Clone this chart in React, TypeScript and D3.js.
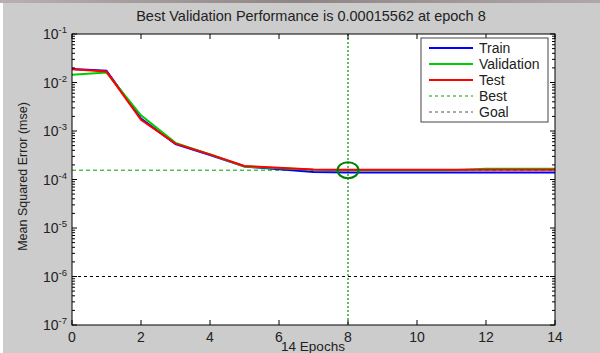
import React from 'react';
import * as d3 from 'd3';

// epochs and mse per series
const epochs = [0, 1, 2, 3, 4, 5, 6, 7, 8, 9, 10, 11, 12, 13, 14];
const trainMse = [0.0190, 0.0174, 0.00180, 5.4e-4, 3.2e-4, 1.85e-4, 1.62e-4, 1.42e-4, 1.40e-4, 1.39e-4, 1.39e-4, 1.39e-4, 1.39e-4, 1.39e-4, 1.39e-4];
const validationMse = [0.0145, 0.0160, 0.00210, 5.7e-4, 3.3e-4, 1.85e-4, 1.70e-4, 1.58e-4, 1.5562e-4, 1.556e-4, 1.556e-4, 1.556e-4, 1.66e-4, 1.66e-4, 1.66e-4];
const testMse = [0.0188, 0.0168, 0.00170, 5.5e-4, 3.3e-4, 1.90e-4, 1.75e-4, 1.60e-4, 1.58e-4, 1.58e-4, 1.58e-4, 1.58e-4, 1.58e-4, 1.58e-4, 1.58e-4];
const bestEpoch = 8;
const bestPerf = 0.00015562;
const goal = 1e-6;
const xTicks = [0, 2, 4, 6, 8, 10, 12, 14];
const yExponents = [-1, -2, -3, -4, -5, -6, -7];
const legendItems = [
  { label: 'Train', color: '#0000ff', dash: null },
  { label: 'Validation', color: '#00cc00', dash: null },
  { label: 'Test', color: '#ff0000', dash: null },
  { label: 'Best', color: '#00a000', dash: '3 3' },
  { label: 'Goal', color: '#555555', dash: '3 3' },
];

const W = 600;
const H = 353;
const m = { left: 72, right: 555, top: 34, bottom: 325 };
const font = '"Liberation Sans", Arial, sans-serif';

export default function App() {
  const x = d3.scaleLinear().domain([0, 14]).range([m.left, m.right]);
  const y = d3.scaleLog().domain([1e-7, 1e-1]).range([m.bottom, m.top]);

  const line = (vals: number[]) =>
    d3.line<number>().x((_, i) => x(epochs[i])).y(d => y(d))(vals) || '';

  const minorTicks: number[] = [];
  for (let e = -7; e < -1; e++) {
    for (let k = 2; k <= 9; k++) minorTicks.push(k * Math.pow(10, e));
  }

  return (
    <div style={{ position: 'fixed', left: 0, top: 0 }}>
      <svg width={W} height={H} style={{ display: 'block', fontFamily: font }}>
        <defs>
          <linearGradient id="topStrip" x1="0" x2="1" y1="0" y2="0">
            <stop offset="0%" stopColor="#b8b0b0" />
            <stop offset="50%" stopColor="#8f8585" />
            <stop offset="100%" stopColor="#b0a8a8" />
          </linearGradient>
          <clipPath id="plotClip">
            <rect x={m.left} y={m.top} width={m.right - m.left} height={m.bottom - m.top} />
          </clipPath>
        </defs>
        <rect x={0} y={0} width={W} height={H} fill="#ffffff" />
        <rect x={3} y={0} width={W - 3} height={H} fill="#cccccc" />
        <rect x={0} y={0} width={W} height={3} fill="url(#topStrip)" />

        <text x={311} y={21} textAnchor="middle" fontSize={14.5} fill="#222">
          Best Validation Performance is 0.00015562 at epoch 8
        </text>

        <rect x={m.left} y={m.top} width={m.right - m.left} height={m.bottom - m.top} fill="#ffffff" />

        <g clipPath="url(#plotClip)">
          {/* goal */}
          <line x1={m.left} x2={m.right} y1={y(goal)} y2={y(goal)} stroke="#000" strokeWidth={1} strokeDasharray="3 3" />
          {/* best */}
          <line x1={m.left} x2={m.right} y1={y(bestPerf)} y2={y(bestPerf)} stroke="#00a000" strokeWidth={1} strokeDasharray="4 3" />
          <line x1={x(bestEpoch)} x2={x(bestEpoch)} y1={m.top} y2={m.bottom} stroke="#009000" strokeWidth={1.2} strokeDasharray="2 2" />
          <path d={line(trainMse)} fill="none" stroke="#0000ff" strokeWidth={2} />
          <path d={line(validationMse)} fill="none" stroke="#00cc00" strokeWidth={2} />
          <path d={line(testMse)} fill="none" stroke="#ff0000" strokeWidth={2} />
          <ellipse cx={x(bestEpoch)} cy={y(bestPerf)} rx={10.5} ry={8} fill="none" stroke="#008000" strokeWidth={2} />
        </g>

        {/* box */}
        <rect x={m.left} y={m.top} width={m.right - m.left} height={m.bottom - m.top} fill="none" stroke="#000" strokeWidth={1} />

        {/* x ticks */}
        {xTicks.map(t => (
          <g key={'x' + t}>
            <line x1={x(t)} x2={x(t)} y1={m.bottom} y2={m.bottom - 5} stroke="#000" />
            <line x1={x(t)} x2={x(t)} y1={m.top} y2={m.top + 5} stroke="#000" />
            <text x={x(t)} y={m.bottom + 17} textAnchor="middle" fontSize={14} fill="#222">{t}</text>
          </g>
        ))}

        {/* y ticks */}
        {yExponents.map(e => {
          const v = Math.pow(10, e);
          return (
            <g key={'y' + e}>
              <line x1={m.left} x2={m.left + 5} y1={y(v)} y2={y(v)} stroke="#000" />
              <line x1={m.right} x2={m.right - 5} y1={y(v)} y2={y(v)} stroke="#000" />
              <text x={43} y={y(v) + 5} fontSize={14} fill="#222">
                10<tspan dy={-6} fontSize={9.5}>{e}</tspan>
              </text>
            </g>
          );
        })}
        {minorTicks.map((v, i) => (
          <g key={'m' + i}>
            <line x1={m.left} x2={m.left + 3} y1={y(v)} y2={y(v)} stroke="#000" />
            <line x1={m.right} x2={m.right - 3} y1={y(v)} y2={y(v)} stroke="#000" />
          </g>
        ))}

        {/* axis titles */}
        <text x={313} y={351} textAnchor="middle" fontSize={13.5} fill="#222">14 Epochs</text>
        <text transform={`translate(27,${(m.top + m.bottom) / 2 - 3}) rotate(-90)`} textAnchor="middle" fontSize={12.5} fill="#222">
          Mean Squared Error  (mse)
        </text>

        {/* legend */}
        <rect x={421} y={38} width={127} height={84} fill="#ffffff" stroke="#444" strokeWidth={1} />
        {legendItems.map((d, i) => {
          const ly = 48 + i * 16;
          return (
            <g key={d.label}>
              <line x1={429} x2={473} y1={ly} y2={ly} stroke={d.color} strokeWidth={d.dash ? 1 : 2} strokeDasharray={d.dash || undefined} />
              <text x={479} y={ly + 5} fontSize={14} fill="#222">{d.label}</text>
            </g>
          );
        })}
      </svg>
    </div>
  );
}
